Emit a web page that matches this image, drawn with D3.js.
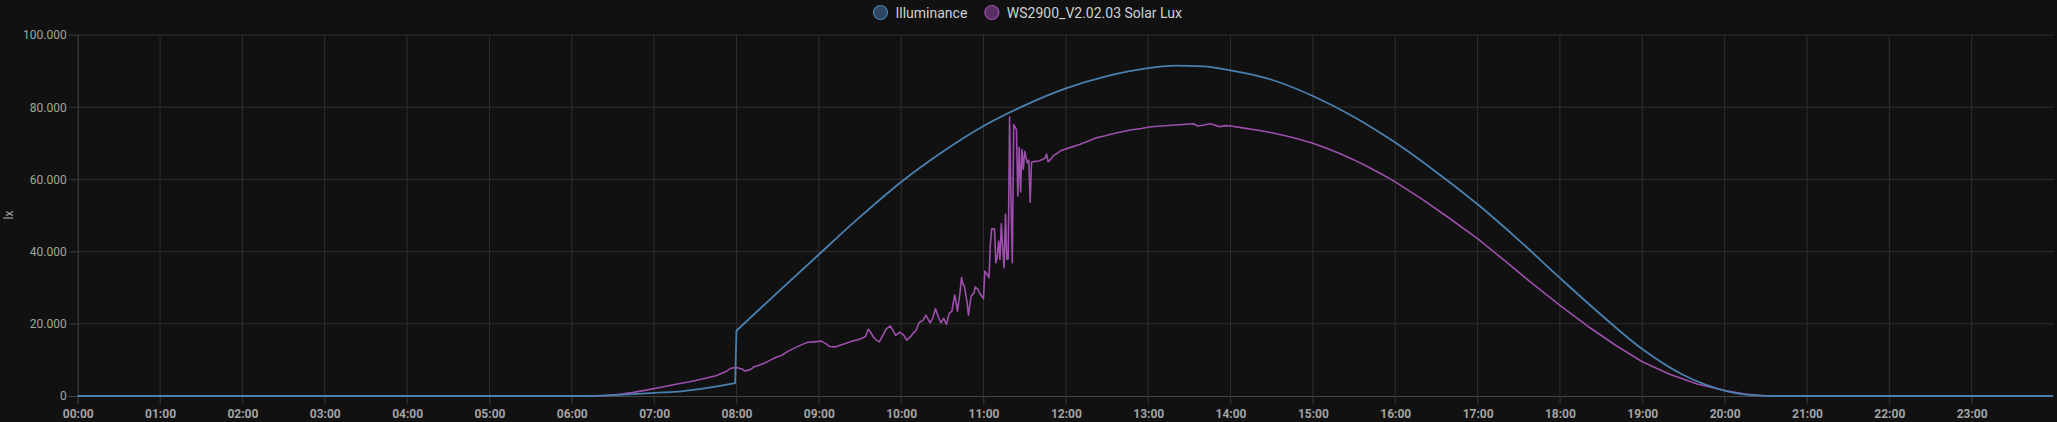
<!DOCTYPE html>
<html><head><meta charset="utf-8">
<script src="https://cdn.jsdelivr.net/npm/d3@7"></script>
<style>
html,body{margin:0;padding:0;background:#111111;}
svg{display:block;}
</style></head>
<body>
<svg id="chart" width="2057" height="422"></svg>
<script>
// ---------- DATA ----------
const seriesNames = ["Illuminance", "WS2900_V2.02.03 Solar Lux"];
const yTicks = [0, 20000, 40000, 60000, 80000, 100000];
const xTickLabels = ["00:00","01:00","02:00","03:00","04:00","05:00","06:00","07:00","08:00","09:00","10:00","11:00","12:00","13:00","14:00","15:00","16:00","17:00","18:00","19:00","20:00","21:00","22:00","23:00"];

// Illuminance before the 08:00 jump
const illumTimesPre = ["00:00","06:05","06:15","06:30","06:45","07:00","07:20","07:40","07:59"];
const illumValuesPre = [0,0,60,250,520,850,1300,2300,3550];
// Illuminance from the 08:00 jump on
const illumTimes = ["08:00","08:30","09:00","09:30","10:00","10:30","11:00","11:30","12:00","12:30","13:00","13:20","13:40","14:00","14:30","15:00","15:30","16:00","16:30","17:00","17:30","18:00","18:30","19:00","19:30","20:00","20:20","20:40","23:59"];
const illumValues = [18100,28700,39200,49600,59300,67600,74800,80500,85200,88600,90800,91500,91300,90200,87600,83100,77300,70200,62000,53100,43200,32700,22500,13000,5800,1500,250,0,0];

const solarTimes = ["00:00","06:15","06:25","06:35","06:45","06:55","07:05","07:15","07:25","07:35","07:45","07:52","07:56","08:00","08:04","08:06","08:10","08:13","08:17","08:21","08:25","08:28","08:33","08:38","08:43","08:48","08:52","08:56","09:02","09:05","09:08","09:12","09:15","09:20","09:24","09:28","09:31","09:34","09:36","09:38","09:40","09:42","09:44","09:47","09:49","09:52","09:54","09:56","09:59","10:02","10:04","10:07","10:09","10:11","10:13","10:16","10:18","10:20","10:21","10:23","10:25","10:27","10:29","10:31","10:33","10:35","10:37","10:39","10:40","10:41","10:43","10:44","10:45","10:46","10:48","10:49","10:50","10:51","10:53","10:54","10:56","10:57","10:59","11:00","11:01","11:03","11:04","11:05","11:06","11:08","11:09","11:10","11:11","11:12","11:13","11:14","11:15","11:16","11:17","11:18","11:19","11:20","11:21","11:22","11:23","11:24","11:25","11:26","11:27","11:28","11:29","11:30","11:31","11:32","11:33","11:34","11:35","11:38","11:40","11:43","11:45","11:46","11:47","11:49","11:51","11:54","11:57","12:03","12:10","12:16","12:22","12:28","12:35","12:41","12:47","12:55","13:02","13:10","13:17","13:25","13:33","13:36","13:40","13:45","13:49","13:52","13:56","14:00","14:10","14:20","14:30","14:40","14:50","15:00","15:10","15:20","15:30","15:40","15:50","16:00","16:20","16:40","17:00","17:20","17:40","18:00","18:20","18:40","19:00","19:20","19:40","20:00","20:15","20:30","23:59"];
const solarValues = [0,0,150,450,1000,1700,2400,3200,3900,4700,5600,6700,7700,7900,7500,6900,7300,8100,8600,9200,10000,10600,11300,12500,13400,14300,14900,15000,15200,14500,13700,13600,14000,14600,15200,15500,15900,16500,18500,17500,16200,15500,15000,17000,18500,19400,18200,16800,17700,16800,15500,16500,17500,18300,20300,21000,22400,21000,20300,21500,24200,22000,20300,21500,19800,22900,23500,28000,26000,23500,29000,32800,31000,30500,26000,22400,25000,27700,28500,30200,29500,28600,27500,27000,34600,33500,32800,42000,46300,46300,36900,38500,42900,37800,47700,41000,35500,50300,37800,38000,77300,54300,36900,75200,74500,73800,55400,68800,56500,68300,62800,67800,66000,64600,65300,53700,64800,65000,65100,65500,66000,67000,64900,65600,66600,67300,68100,68800,69700,70600,71500,72000,72700,73200,73700,74100,74600,74800,75000,75200,75400,74800,75000,75400,75000,74600,74900,74800,74200,73600,72900,72100,71100,70000,68600,67100,65400,63500,61500,59300,54400,49100,43600,37400,31100,25100,19400,14200,9500,6000,3300,1500,550,0,0];

// ---------- STYLE ----------
const colors = ["#4a80b0", "#9d4fac"];
const legendFill = ["#2c4761", "#5b2e63"];

const svg = d3.select("#chart");
const W = 2057, H = 422;
svg.append("rect").attr("width", W).attr("height", H).attr("fill", "#111111");

const parse = d3.timeParse("%Y-%m-%d %H:%M");
const day = "2024-06-01";
const t0 = parse(day + " 00:00");
const t1 = d3.timeDay.offset(t0, 1);

const x = d3.scaleTime().domain([t0, t1]).range([77.7, 2054]);
const y = d3.scaleLinear().domain([0, 100000]).range([396, 35]);

const de = d3.formatLocale({decimal: ",", thousands: ".", grouping: [3], currency: ["", " €"]});
const fmt = de.format(",d");

const gridColor = "#2e2e2e";
const axisColor = "#464646";
const textColor = "#a3a3a3";

// grid
const hourTicks = xTickLabels.map(s => parse(day + " " + s));
svg.append("g").selectAll("line").data(hourTicks.slice(1)).join("line")
  .attr("x1", d => x(d)).attr("x2", d => x(d))
  .attr("y1", y(100000)).attr("y2", y(0) + 8)
  .attr("stroke", gridColor).attr("stroke-width", 1);
svg.append("g").selectAll("line").data(yTicks.slice(1)).join("line")
  .attr("x1", x.range()[0] - 9).attr("x2", x.range()[1])
  .attr("y1", d => y(d)).attr("y2", d => y(d))
  .attr("stroke", gridColor).attr("stroke-width", 1);

// y axis
const yAxis = d3.axisLeft(y).tickValues(yTicks).tickFormat(fmt).tickSize(9).tickPadding(2);
const gy = svg.append("g").attr("transform", `translate(${x.range()[0]},0)`).call(yAxis);
gy.select(".domain").attr("stroke", axisColor);
gy.selectAll(".tick line").attr("stroke", d => d === 0 ? axisColor : gridColor);
gy.selectAll(".tick text").attr("fill", textColor)
  .style("font-family", "Roboto, sans-serif").style("font-size", "12px");

// x axis
const xAxis = d3.axisBottom(x).tickValues(hourTicks).tickFormat((d, i) => xTickLabels[i]).tickSize(8).tickPadding(5);
const gx = svg.append("g").attr("transform", `translate(0,${y(0)})`).call(xAxis);
gx.select(".domain").attr("stroke", axisColor).attr("d", `M${x.range()[0]},0.5H${x.range()[1]}`);
gx.selectAll(".tick line").attr("stroke", (d, i) => i === 0 ? axisColor : gridColor);
gx.selectAll(".tick text").attr("fill", textColor)
  .style("font-family", "Roboto, sans-serif").style("font-size", "12px").style("font-weight", "bold");

// y title
svg.append("text").attr("transform", "translate(12.5,215) rotate(-90)")
  .attr("text-anchor", "middle").attr("fill", textColor)
  .style("font-family", "Roboto, sans-serif").style("font-size", "12px").text("lx");

// lines
const toPts = (ts, vs) => ts.map((t, i) => ({t: parse(day + " " + t), v: vs[i]}));
const illumPre = toPts(illumTimesPre, illumValuesPre);
const illum = toPts(illumTimes, illumValues);
const solar = toPts(solarTimes, solarValues);

const lineSolar = d3.line().x(d => x(d.t)).y(d => y(d.v)).curve(d3.curveLinear);
const lineIllum = d3.line().x(d => x(d.t)).y(d => y(d.v)).curve(d3.curveMonotoneX);

svg.append("path").datum(solar).attr("d", lineSolar)
  .attr("fill", "none").attr("stroke", colors[1]).attr("stroke-width", 1.6).attr("stroke-linejoin", "round");
const illumPath = lineIllum(illumPre) + lineIllum(illum).replace(/^M/, "L");
svg.append("path").attr("d", illumPath)
  .attr("fill", "none").attr("stroke", colors[0]).attr("stroke-width", 1.8).attr("stroke-linejoin", "round");

// legend
const lg = svg.append("g");
let cx = 0;
seriesNames.forEach((name, i) => {
  const g = lg.append("g").attr("transform", `translate(${cx},0)`);
  g.append("circle").attr("cx", 7.5).attr("cy", 12.5).attr("r", 7)
    .attr("fill", legendFill[i]).attr("stroke", colors[i]).attr("stroke-width", 1.2);
  const tx = g.append("text").attr("x", 22.5).attr("y", 17.5).attr("fill", "#d0d0d0")
    .style("font-family", "Roboto, sans-serif").style("font-size", "14px").text(name);
  const w = tx.node().getComputedTextLength();
  cx += 22.5 + w + 17;
});
lg.attr("transform", "translate(873,0)");
</script>
</body></html>
